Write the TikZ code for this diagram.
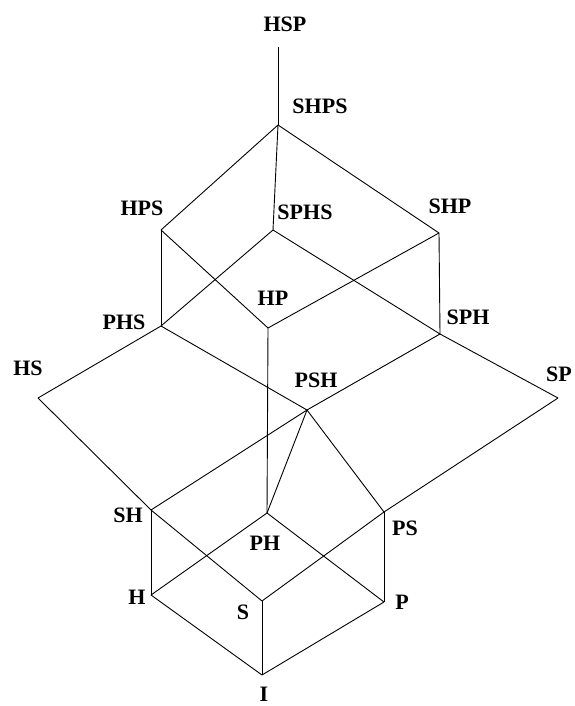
\documentclass[tikz,border=0pt]{standalone}
\usepackage{fontspec}
\setmainfont{Liberation Serif}
\begin{document}
\begin{tikzpicture}[x=1pt,y=-1pt,
  edge/.style={draw=black,line width=0.9pt},
  lbl/.style={font=\bfseries\fontsize{22}{22}\selectfont,inner sep=0pt}]
\useasboundingbox (0,0) rectangle (574,706);
% lattice points
\coordinate (HSP)  at (278,47);
\coordinate (SHPS) at (278,125);
\coordinate (HPS)  at (161,230);
\coordinate (SPHS) at (273,230);
\coordinate (SHP)  at (439,233);
\coordinate (PHS)  at (161,326);
\coordinate (HP)   at (268,328);
\coordinate (SPH)  at (440,334);
\coordinate (HS)   at (38,398);
\coordinate (SP)   at (558,398);
\coordinate (PSH)  at (307,410);
\coordinate (SH)   at (151,510);
\coordinate (PH)   at (267,513);
\coordinate (PS)   at (384,512);
\coordinate (H)    at (151,595);
\coordinate (S)    at (262,601);
\coordinate (P)    at (384,602);
\coordinate (I)    at (262,675);
% labels
\node[lbl] (tHSP)  at (285,24)  {HSP};
\node[lbl] (tSHPS) at (320,106) {SHPS};
\node[lbl] (tHPS)  at (142,208) {HPS};
\node[lbl] (tSPHS) at (305,212) {SPHS};
\node[lbl] (tSHP)  at (450,206) {SHP};
\node[lbl] (tHP)   at (273,298) {HP};
\node[lbl] (tPHS)  at (124,322) {PHS};
\node[lbl] (tSPH)  at (468,317) {SPH};
\node[lbl] (tHS)   at (28,368)  {HS};
\node[lbl] (tSP)   at (559,374) {SP};
\node[lbl] (tPSH)  at (316,380) {PSH};
\node[lbl] (tSH)   at (128,515) {SH};
\node[lbl] (tPH)   at (265,543) {PH};
\node[lbl] (tPS)   at (405,528) {PS};
\node[lbl] (tH)    at (137,597) {H};
\node[lbl] (tS)    at (243,612) {S};
\node[lbl] (tP)    at (402,602) {P};
\node[lbl] (tI)    at (264,694) {I};
% edges
\draw[edge] (HSP) -- (SHPS);
\draw[edge] (SHPS) -- (HPS);
\draw[edge] (SHPS) -- (SHP);
\draw[edge] (SHPS) -- (SPHS);
\draw[edge] (HPS) -- (PHS);
\draw[edge] (HPS) -- (HP);
\draw[edge] (SPHS) -- (PHS);
\draw[edge] (SPHS) -- (SPH);
\draw[edge] (SHP) -- (HP);
\draw[edge] (SHP) -- (SPH);
\draw[edge] (PHS) -- (HS);
\draw[edge] (PHS) -- (PSH);
\draw[edge] (SPH) -- (PSH);
\draw[edge] (SPH) -- (SP);
\draw[edge] (HP) -- (PH);
\draw[edge] (HS) -- (SH);
\draw[edge] (SP) -- (PS);
\draw[edge] (PSH) -- (SH);
\draw[edge] (PSH) -- (PH);
\draw[edge] (PSH) -- (PS);
\draw[edge] (SH) -- (H);
\draw[edge] (SH) -- (S);
\draw[edge] (PH) -- (H);
\draw[edge] (PH) -- (P);
\draw[edge] (PS) -- (S);
\draw[edge] (PS) -- (P);
\draw[edge] (H) -- (I);
\draw[edge] (S) -- (I);
\draw[edge] (P) -- (I);
\end{tikzpicture}
\end{document}
